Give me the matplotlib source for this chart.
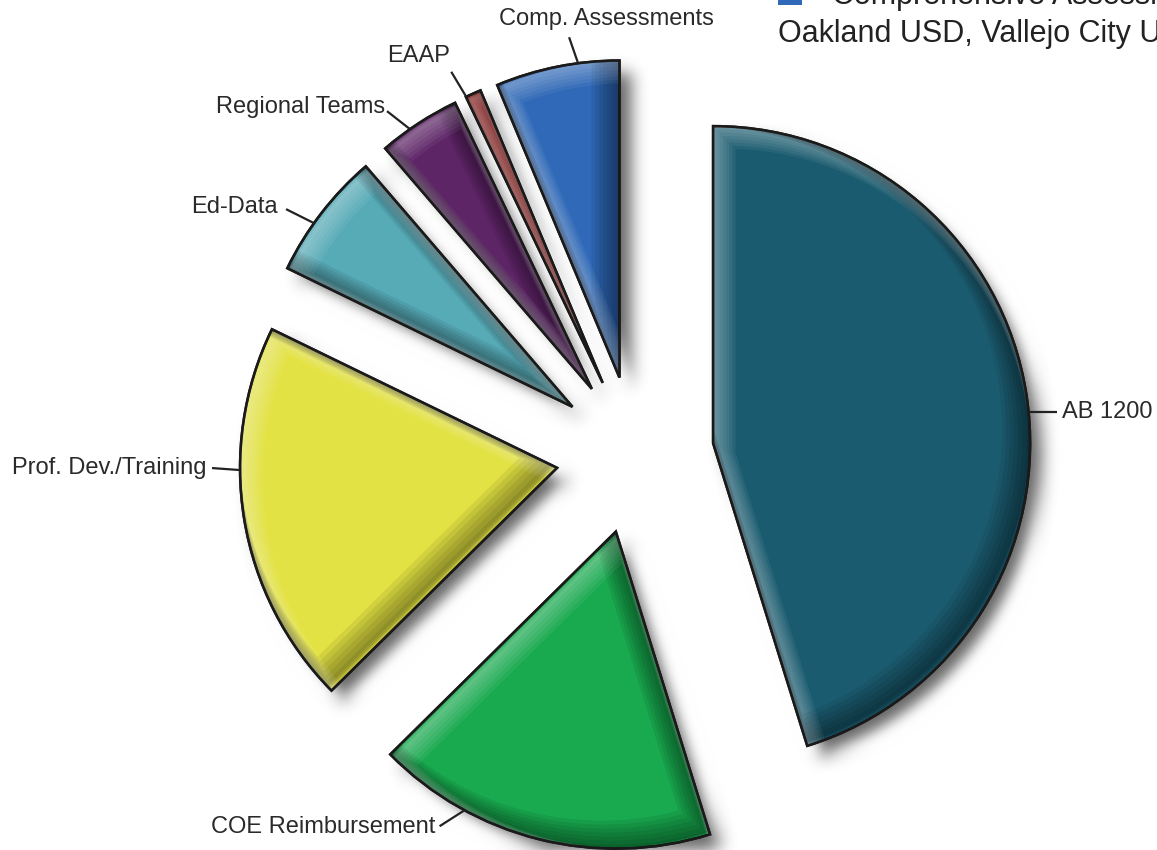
import numpy as np
import matplotlib
matplotlib.use("Agg")
import matplotlib.pyplot as plt
from matplotlib.patches import Wedge, Rectangle

# slices, clockwise from 12 o'clock
labels = ['AB 1200', 'COE Reimbursement', 'Prof. Dev./Training', 'Ed-Data',
          'Regional Teams', 'EAAP', 'Comp. Assessments']
shares = [45.2, 17.4, 19.6, 6.5, 4.2, 0.8, 6.3]
colors = ['#1b5b6f', '#19a94f', '#e3e244', '#57abb7', '#5d2466', '#c9403f', '#2f69b7']

legend_lines = ['Comprehensive Assessments', 'Oakland USD, Vallejo City Unified']

# label placement: angle on the arc where the leader starts, and offsets in px (x right, y down)
label_angle = [5.6, 241.5, 180.4, 144.6, 125.0, 115.5, 97.5]
leader_end = [(28, 0), (-25, 16), (-28, -2), (-28, -14), (-23, -18), (-15, -25), (-9, -26)]
text_off = [(33, 0), (-29, 17), (-34, -2), (-36, -16), (-25, -22), (-48, -41), (28, -44)]
text_ha = ['left', 'right', 'right', 'right', 'right', 'center', 'center']

W, H = 1157, 850
R = 317
CENTER = (635, H - 455)
EXPLODE = 79

sans = ['Liberation Sans', 'DejaVu Sans']


def soft(sigma):
    # gaussian blur used for the drop shadow
    def filt(im, dpi):
        pad = int(3 * sigma)
        a = np.pad(im, ((pad, pad), (pad, pad), (0, 0)))
        x = np.arange(-pad, pad + 1)
        k = np.exp(-0.5 * (x / sigma) ** 2)
        k /= k.sum()
        for axis in (0, 1):
            a = sum(w * np.roll(a, s, axis=axis) for s, w in zip(x, k))
        return np.clip(a, 0, 1), -pad, -pad
    return filt


fig = plt.figure(figsize=(W / 100, H / 100), dpi=100)
ax = fig.add_axes([0, 0, 1, 1])

wedges, _ = ax.pie(shares, colors=colors, startangle=90, counterclock=False,
                   radius=R, center=CENTER, explode=[EXPLODE] * len(shares),
                   wedgeprops=dict(edgecolor='#1a1a1a', linewidth=1.8), frame=False)

for w in wedges:
    w.set_zorder(3)
    cx, cy = w.center
    # drop shadow
    sh = Wedge((cx + 12, cy - 12), w.r, w.theta1, w.theta2, facecolor='black',
               edgecolor='none', alpha=0.6, zorder=1)
    sh.set_agg_filter(soft(8))
    ax.add_patch(sh)
    # bevel: dark along lower/right edges, light along upper/left edges
    for k in range(1, 8):
        d = 2.0 * k
        dark = Wedge((cx - d, cy + d), w.r, w.theta1, w.theta2, fill=False,
                     edgecolor='black', linewidth=2 * d * 0.72, alpha=0.07, zorder=4)
        ax.add_patch(dark)
        dark.set_clip_path(w)
        lite = Wedge((cx + d * 0.8, cy - d * 0.8), w.r, w.theta1, w.theta2, fill=False,
                     edgecolor='white', linewidth=1.6 * d * 0.72, alpha=0.06, zorder=4)
        ax.add_patch(lite)
        lite.set_clip_path(w)
    # outline on top again
    ax.add_patch(Wedge((cx, cy), w.r, w.theta1, w.theta2, fill=False,
                       edgecolor='#1a1a1a', linewidth=1.8, zorder=5))

# labels with short leader lines
for i, w in enumerate(wedges):
    cx, cy = w.center
    a = np.radians(label_angle[i])
    px, py = cx + w.r * np.cos(a), cy + w.r * np.sin(a)
    lx, ly = px + leader_end[i][0], py - leader_end[i][1]
    ax.plot([px, lx], [py, ly], color='#222222', lw=1.6, zorder=6,
            solid_capstyle='butt')
    ax.text(px + text_off[i][0], py - text_off[i][1], labels[i], ha=text_ha[i],
            va='center', fontsize=17, color='#2a2a2a', family=sans, zorder=6)

# clipped legend text at the top right
ax.add_patch(Rectangle((778, H - 5), 24, 20, facecolor='#2f69b7', edgecolor='none',
                       clip_on=False))
ax.text(832, H - 4, legend_lines[0], ha='left', va='baseline', fontsize=22,
        color='#222222', family=sans)
ax.text(778, H - 42, legend_lines[1], ha='left', va='baseline', fontsize=22,
        color='#222222', family=sans)

ax.set_xlim(0, W)
ax.set_ylim(0, H)
ax.set_aspect('auto')
ax.axis('off')

fig.savefig('out.png', dpi=100)
